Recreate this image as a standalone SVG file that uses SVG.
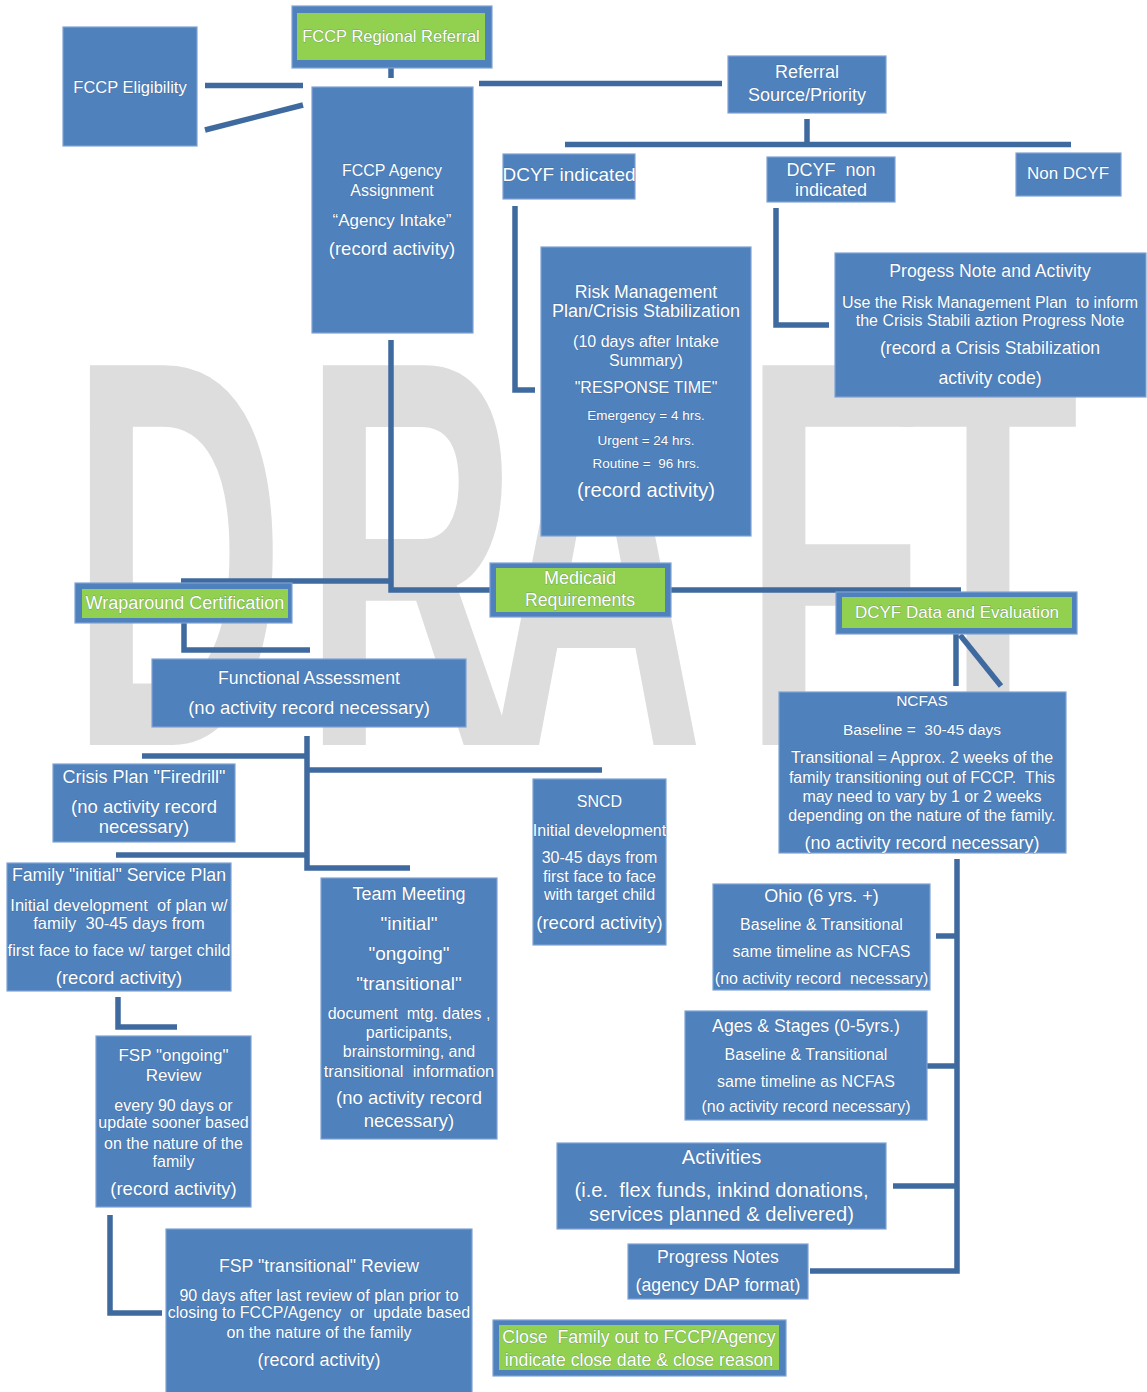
<svg xmlns="http://www.w3.org/2000/svg" width="1147" height="1392" viewBox="0 0 1147 1392">
<style>
.bg{fill:#ffffff}
.wm{fill:#dddddd;font-family:"Liberation Sans",Arial,sans-serif;font-weight:bold;font-size:552px}
.box{fill:#4f81bd;stroke:#7fa3d2;stroke-width:1.2}
.gbox{fill:#92d050}
.conn path{fill:none;stroke:#3f6a9f;stroke-width:5.5;stroke-linejoin:miter;stroke-linecap:butt}
text.t{fill:#ffffff;font-family:"Liberation Sans",Arial,sans-serif;text-anchor:middle;stroke:#2c4c78;stroke-width:0.9;stroke-opacity:0.35;paint-order:stroke}
.s135{font-size:13.5px}.s155{font-size:15.5px}.s16{font-size:16px}.s165{font-size:16.5px}.s17{font-size:17px}.s177{font-size:17.7px}.s18{font-size:18px}.s185{font-size:18.5px}.s19{font-size:19px}.s20{font-size:20.2px}
</style>
<rect class="bg" x="0" y="0" width="1147" height="1392"/>
<text class="wm" transform="translate(0,745) scale(0.54,1)"><tspan x="129.6">D</tspan><tspan x="561">R</tspan><tspan x="905">A</tspan><tspan x="1375">F</tspan><tspan x="1661">T</tspan></text>

<g id="connectors" class="conn">
<path d="M205,85.5 H303"/>
<path d="M205,130 L303,105"/>
<path d="M391,68 V78"/>
<path d="M479,83.5 H722"/>
<path d="M807,119 V147"/>
<path d="M565,144.5 H1071"/>
<path d="M515,206 V390 H535"/>
<path d="M776,208 V325 H829"/>
<path d="M391,340 V590 H490"/>
<path d="M181,581 H391"/>
<path d="M671,590 H961"/>
<path d="M184,623 V650 H310"/>
<path d="M956,634 V686"/>
<path d="M960,635 L1001,686"/>
<path d="M307,736 V868 H410"/>
<path d="M142,756 H307"/>
<path d="M307,770 H602"/>
<path d="M116,855 H307"/>
<path d="M118,997 V1027 H177"/>
<path d="M110,1215 V1313 H162"/>
<path d="M957,859 V1271 H810"/>
<path d="M936,936 H957"/>
<path d="M926,1066 H957"/>
<path d="M893,1186 H957"/>
</g>

<g id="fccp-eligibility">
<rect class="box" x="63" y="27" width="134" height="119"/>
<text class="t s165" x="130" y="93">FCCP Eligibility</text>
</g>

<g id="fccp-regional-referral">
<rect class="box" x="292" y="6" width="200" height="62"/>
<rect class="gbox" x="297" y="13" width="188" height="47"/>
<text class="t s165" x="391" y="42">FCCP Regional Referral</text>
</g>

<g id="fccp-agency-assignment">
<rect class="box" x="312" y="87" width="161" height="246"/>
<text class="t s16" x="392" y="176">FCCP Agency</text>
<text class="t s16" x="392" y="196">Assignment</text>
<text class="t s17" x="392" y="226">“Agency Intake”</text>
<text class="t s185" x="392" y="255">(record activity)</text>
</g>

<g id="referral-source">
<rect class="box" x="728" y="56" width="158" height="57"/>
<text class="t s18" x="807" y="78">Referral</text>
<text class="t s18" x="807" y="101">Source/Priority</text>
</g>

<g id="dcyf-indicated">
<rect class="box" x="503" y="154" width="132" height="45"/>
<text class="t s19" x="569" y="181">DCYF indicated</text>
</g>

<g id="dcyf-non-indicated">
<rect class="box" x="767" y="157" width="128" height="45"/>
<text class="t s18" x="831" y="176">DCYF&#160; non</text>
<text class="t s18" x="831" y="196">indicated</text>
</g>

<g id="non-dcyf">
<rect class="box" x="1016" y="153" width="105" height="43"/>
<text class="t s17" x="1068" y="179">Non DCYF</text>
</g>

<g id="risk-management">
<rect class="box" x="541" y="247" width="210" height="289"/>
<text class="t s177" x="646" y="298">Risk Management</text>
<text class="t s18" x="646" y="317">Plan/Crisis Stabilization</text>
<text class="t s16" x="646" y="347">(10 days after Intake</text>
<text class="t s16" x="646" y="366">Summary)</text>
<text class="t s16" x="646" y="393">"RESPONSE TIME"</text>
<text class="t s135" x="646" y="420">Emergency = 4 hrs.</text>
<text class="t s135" x="646" y="445">Urgent = 24 hrs.</text>
<text class="t s135" x="646" y="468">Routine =&#160; 96 hrs.</text>
<text class="t s20" x="646" y="497">(record activity)</text>
</g>

<g id="progress-note-activity">
<rect class="box" x="835" y="253" width="311" height="144"/>
<text class="t s177" x="990" y="277">Progess Note and Activity</text>
<text class="t s16" x="990" y="308">Use the Risk Management Plan&#160; to inform</text>
<text class="t s16" x="990" y="326">the Crisis Stabili aztion Progress Note</text>
<text class="t s177" x="990" y="354">(record a Crisis Stabilization</text>
<text class="t s177" x="990" y="384">activity code)</text>
</g>

<g id="wraparound-certification">
<rect class="box" x="75" y="583" width="217" height="40"/>
<rect class="gbox" x="82" y="589" width="206" height="29"/>
<text class="t s18" x="185" y="609">Wraparound Certification</text>
</g>

<g id="medicaid-requirements">
<rect class="box" x="490" y="563" width="181" height="54"/>
<rect class="gbox" x="496" y="568" width="169" height="44"/>
<text class="t s18" x="580" y="584">Medicaid</text>
<text class="t s177" x="580" y="606">Requirements</text>
</g>

<g id="functional-assessment">
<rect class="box" x="152" y="659" width="314" height="68"/>
<text class="t s177" x="309" y="684">Functional Assessment</text>
<text class="t s185" x="309" y="714">(no activity record necessary)</text>
</g>

<g id="dcyf-data-evaluation">
<rect class="box" x="836" y="592" width="241" height="42"/>
<rect class="gbox" x="842" y="597" width="230" height="31"/>
<text class="t s17" x="957" y="618">DCYF Data and Evaluation</text>
</g>

<g id="ncfas">
<rect class="box" x="779" y="692" width="287" height="161"/>
<text class="t s155" x="922" y="706">NCFAS</text>
<text class="t s155" x="922" y="735">Baseline =&#160; 30-45 days</text>
<text class="t s16" x="922" y="763">Transitional = Approx. 2 weeks of the</text>
<text class="t s16" x="922" y="783">family transitioning out of FCCP.&#160; This</text>
<text class="t s16" x="922" y="802">may need to vary by 1 or 2 weeks</text>
<text class="t s16" x="922" y="821">depending on the nature of the family.</text>
<text class="t s18" x="922" y="849">(no activity record necessary)</text>
</g>

<g id="crisis-plan">
<rect class="box" x="53" y="764" width="182" height="78"/>
<text class="t s18" x="144" y="783">Crisis Plan "Firedrill"</text>
<text class="t s185" x="144" y="813">(no activity record</text>
<text class="t s185" x="144" y="833">necessary)</text>
</g>

<g id="sncd">
<rect class="box" x="533" y="779" width="133" height="166"/>
<text class="t s16" x="599.5" y="807">SNCD</text>
<text class="t s16" x="599.5" y="836">Initial development</text>
<text class="t s16" x="599.5" y="863">30-45 days from</text>
<text class="t s16" x="599.5" y="882">first face to face</text>
<text class="t s16" x="599.5" y="900">with target child</text>
<text class="t s185" x="599.5" y="929">(record activity)</text>
</g>

<g id="family-service-plan">
<rect class="box" x="7" y="863" width="224" height="128"/>
<text class="t s177" x="119" y="881">Family "initial" Service Plan</text>
<text class="t s165" x="119" y="911">Initial development&#160; of plan w/</text>
<text class="t s165" x="119" y="929">family&#160; 30-45 days from</text>
<text class="t s165" x="119" y="956">first face to face w/ target child</text>
<text class="t s185" x="119" y="984">(record activity)</text>
</g>

<g id="team-meeting">
<rect class="box" x="321" y="878" width="176" height="261"/>
<text class="t s18" x="409" y="900">Team Meeting</text>
<text class="t s19" x="409" y="930">"initial"</text>
<text class="t s19" x="409" y="960">"ongoing"</text>
<text class="t s19" x="409" y="990">"transitional"</text>
<text class="t s16" x="409" y="1019">document&#160; mtg. dates ,</text>
<text class="t s16" x="409" y="1038">participants,</text>
<text class="t s16" x="409" y="1057">brainstorming, and</text>
<text class="t s165" x="409" y="1077">transitional&#160; information</text>
<text class="t s185" x="409" y="1104">(no activity record</text>
<text class="t s185" x="409" y="1127">necessary)</text>
</g>

<g id="ohio">
<rect class="box" x="713" y="884" width="217" height="106"/>
<text class="t s18" x="821.5" y="902">Ohio (6 yrs. +)</text>
<text class="t s16" x="821.5" y="930">Baseline &amp; Transitional</text>
<text class="t s16" x="821.5" y="957">same timeline as NCFAS</text>
<text class="t s16" x="821.5" y="984">(no activity record&#160; necessary)</text>
</g>

<g id="fsp-ongoing-review">
<rect class="box" x="96" y="1036" width="155" height="171"/>
<text class="t s17" x="173.5" y="1061">FSP "ongoing"</text>
<text class="t s17" x="173.5" y="1081">Review</text>
<text class="t s16" x="173.5" y="1111">every 90 days or</text>
<text class="t s16" x="173.5" y="1128">update sooner based</text>
<text class="t s16" x="173.5" y="1149">on the nature of the</text>
<text class="t s16" x="173.5" y="1167">family</text>
<text class="t s185" x="173.5" y="1195">(record activity)</text>
</g>

<g id="ages-stages">
<rect class="box" x="685" y="1011" width="242" height="109"/>
<text class="t s177" x="806" y="1032">Ages &amp; Stages (0-5yrs.)</text>
<text class="t s16" x="806" y="1060">Baseline &amp; Transitional</text>
<text class="t s16" x="806" y="1087">same timeline as NCFAS</text>
<text class="t s16" x="806" y="1112">(no activity record necessary)</text>
</g>

<g id="activities">
<rect class="box" x="557" y="1143" width="329" height="86"/>
<text class="t s20" x="721.5" y="1164">Activities</text>
<text class="t s20" x="721.5" y="1197">(i.e.&#160; flex funds, inkind donations,</text>
<text class="t s20" x="721.5" y="1221">services planned &amp; delivered)</text>
</g>

<g id="fsp-transitional-review">
<rect class="box" x="166" y="1229" width="306" height="170"/>
<text class="t s177" x="319" y="1272">FSP "transitional" Review</text>
<text class="t s16" x="319" y="1301">90 days after last review of plan prior to</text>
<text class="t s16" x="319" y="1318">closing to FCCP/Agency&#160; or&#160; update based</text>
<text class="t s16" x="319" y="1338">on the nature of the family</text>
<text class="t s18" x="319" y="1366">(record activity)</text>
</g>

<g id="progress-notes">
<rect class="box" x="628" y="1244" width="180" height="55"/>
<text class="t s177" x="718" y="1263">Progress Notes</text>
<text class="t s177" x="718" y="1291">(agency DAP format)</text>
</g>

<g id="close-family">
<rect class="box" x="493" y="1320" width="293" height="56"/>
<rect class="gbox" x="499" y="1325" width="280" height="45"/>
<text class="t s177" x="639" y="1343">Close&#160; Family out to FCCP/Agency</text>
<text class="t s177" x="639" y="1366">indicate close date &amp; close reason</text>
</g>
</svg>
